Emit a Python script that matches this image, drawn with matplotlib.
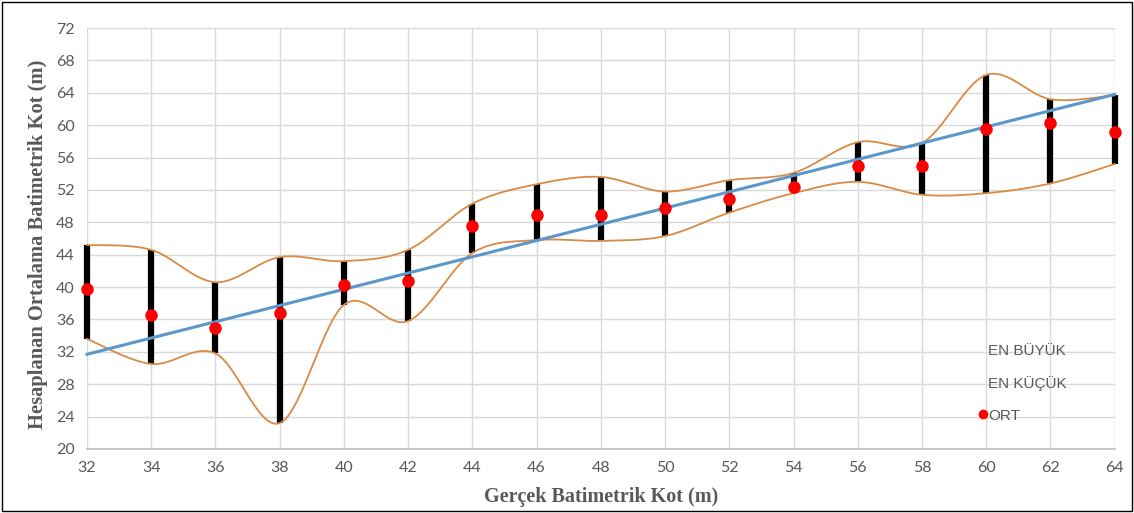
import numpy as np
import matplotlib
matplotlib.use("Agg")
import matplotlib.pyplot as plt
from matplotlib.lines import Line2D
from matplotlib.patches import Rectangle

# ---- data ----
gercek = [32, 34, 36, 38, 40, 42, 44, 46, 48, 50, 52, 54, 56, 58, 60, 62, 64]
en_buyuk = [45.2, 44.6, 40.6, 43.7, 43.2, 44.6, 50.3, 52.7, 53.6, 51.8, 53.2, 54.1, 57.9, 57.8, 66.2, 63.2, 63.7]
en_kucuk = [33.6, 30.5, 31.8, 23.2, 37.8, 35.8, 44.2, 45.8, 45.7, 46.3, 49.2, 51.6, 53.0, 51.4, 51.6, 52.8, 55.2]
ort = [39.8, 36.6, 35.0, 36.8, 40.3, 40.8, 47.5, 48.9, 48.9, 49.8, 50.9, 52.4, 54.9, 54.9, 59.5, 60.3, 59.2]
ideal_x = [32, 64]
ideal_y = [31.7, 63.8]
xticks = list(range(32, 65, 2))
yticks = list(range(20, 73, 4))


def smooth(xs, ys, n=30):
    """Catmull-Rom smoothing of a drawn line (like a spreadsheet 'smoothed line')."""
    P = np.column_stack([xs, ys]).astype(float)
    P = np.vstack([P[0], P, P[-1]])
    out = []
    t = np.linspace(0, 1, n, endpoint=False)
    for i in range(1, len(P) - 2):
        p0, p1, p2, p3 = P[i - 1], P[i], P[i + 1], P[i + 2]
        t2, t3 = t * t, t * t * t
        pts = 0.5 * ((2 * p1)[None, :] + (-p0 + p2)[None, :] * t[:, None]
                     + (2 * p0 - 5 * p1 + 4 * p2 - p3)[None, :] * t2[:, None]
                     + (-p0 + 3 * p1 - 3 * p2 + p3)[None, :] * t3[:, None])
        out.append(pts)
    out.append(P[-2][None, :])
    out = np.vstack(out)
    return out[:, 0], out[:, 1]


fig = plt.figure(figsize=(11.34, 5.13), dpi=100)
ax = fig.add_axes([0.0767, 0.1248, 0.9063, 0.8206])

gray_txt = "#595959"
grid_c = "#d9d9d9"

ax.set_xlim(32, 64)
ax.set_ylim(20, 72)
ax.set_xticks(xticks)
ax.set_yticks(yticks)
ax.grid(True, color=grid_c, linewidth=1.0)
ax.set_axisbelow(True)
for s in ax.spines.values():
    s.set_visible(False)
ax.spines["bottom"].set_visible(True)
ax.spines["bottom"].set_color("#bfbfbf")
ax.spines["bottom"].set_linewidth(1.2)
ax.tick_params(length=0, colors=gray_txt, labelsize=11.5)
ax.tick_params(axis="x", pad=9)
ax.tick_params(axis="y", pad=9)
for lab in ax.get_xticklabels() + ax.get_yticklabels():
    lab.set_family("Lato")

# high-low bars
ax.vlines(gercek, en_kucuk, en_buyuk, colors="black", linewidth=4.5, zorder=3, clip_on=False)

# smoothed max / min
orange = "#D98A45"
sx, sy = smooth(gercek, en_buyuk)
ax.plot(sx, sy, color=orange, linewidth=1.3, zorder=4, clip_on=False)
sx, sy = smooth(gercek, en_kucuk)
ax.plot(sx, sy, color=orange, linewidth=1.3, zorder=4, clip_on=False)

# ideal line
ax.plot(ideal_x, ideal_y, color="#5B97CB", linewidth=2.2, zorder=5, clip_on=False)

# mean points
ax.plot(gercek, ort, linestyle="none", marker="o", markersize=9, color="#FF0000",
        markeredgewidth=0, zorder=6, clip_on=False)

# legend
handles = [Line2D([], [], linestyle="none"),
           Line2D([], [], linestyle="none"),
           Line2D([], [], linestyle="none", marker="o", markersize=7, color="#FF0000", markeredgewidth=0)]
leg = ax.legend(handles, ["EN BÜYÜK", "EN KÜÇÜK", "ORT"], loc="lower left",
                bbox_to_anchor=(0.855, 0.03), frameon=False, handlelength=0.4,
                handletextpad=0.15, labelspacing=1.15,
                prop={"family": "Liberation Sans", "size": 11})
for t in leg.get_texts():
    t.set_color(gray_txt)

ax.set_xlabel("Gerçek Batimetrik Kot (m)", family="Liberation Serif", fontweight="bold",
              fontsize=14.5, color=gray_txt, labelpad=8)
ax.set_ylabel("Hesaplanan Ortalama Batimetrik Kot (m)", family="Liberation Serif",
              fontweight="bold", fontsize=14.8, color=gray_txt)
ax.yaxis.set_label_coords(-0.038, 0.487)

fig.patches.append(Rectangle((0.002, 0.003), 0.996, 0.994, transform=fig.transFigure,
                             fill=False, edgecolor="black", linewidth=1.0))

fig.savefig("out.png", dpi=100)
